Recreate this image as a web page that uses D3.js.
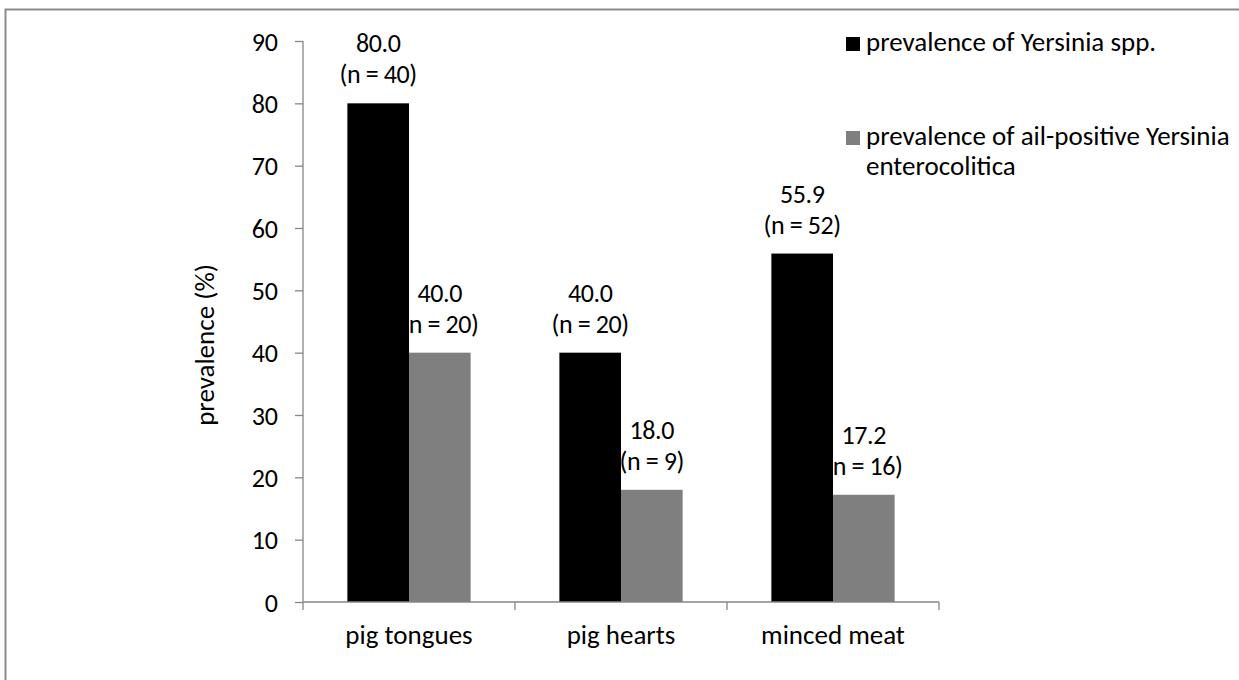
<!DOCTYPE html>
<html>
<head>
<meta charset="utf-8">
<script src="https://cdn.jsdelivr.net/npm/d3@7"></script>
<style>
  html, body { margin: 0; padding: 0; background: #fff; }
  text { font-family: Carlito, Calibri, Lato, sans-serif; fill: #000; }
</style>
</head>
<body>
<svg id="chart" width="1239" height="680"></svg>
<script>
const categories = ["pig tongues", "pig hearts", "minced meat"];
const seriesNames = ["prevalence of Yersinia spp.", "prevalence of ail-positive Yersinia enterocolitica"];
const legendLines = [["prevalence of Yersinia spp."], ["prevalence of ail-positive Yersinia", "enterocolitica"]];
const yersiniaSpp = [80.0, 40.0, 55.9];
const ailPositive = [40.0, 18.0, 17.2];
const nYersiniaSpp = [40, 20, 52];
const nAilPositive = [20, 9, 16];
const yTicks = [0, 10, 20, 30, 40, 50, 60, 70, 80, 90];
const yTitle = "prevalence (%)";

const seriesValues = [yersiniaSpp, ailPositive];
const seriesN = [nYersiniaSpp, nAilPositive];
const colors = ["#000000", "#7f7f7f"];
const axisColor = "#868686";
const fs = 26;
const fsText = 27;
const ff = "Carlito, Calibri, Lato, sans-serif";

const svg = d3.select("#chart");
svg.append("rect").attr("x", 0).attr("y", 0).attr("width", 1239).attr("height", 680).attr("fill", "#fff");
svg.append("rect").attr("x", 5.5).attr("y", 9.5).attr("width", 1300).attr("height", 700)
  .attr("fill", "none").attr("stroke", "#8c8c8c").attr("stroke-width", 2);

const y = d3.scaleLinear().domain([0, 90]).range([602, 41]);
const x0 = d3.scaleBand().domain(categories).range([303, 939]).padding(0);
const x1 = d3.scaleBand().domain([0, 1]).range([0, x0.bandwidth()]).paddingInner(0).paddingOuter(0.72);

const data = [];
categories.forEach((c, i) => {
  seriesValues.forEach((vals, s) => {
    data.push({ cat: c, s: s, v: vals[i], n: seriesN[s][i] });
  });
});

svg.append("g").selectAll("rect").data(data).join("rect")
  .attr("x", d => x0(d.cat) + x1(d.s))
  .attr("y", d => y(d.v))
  .attr("width", x1.bandwidth())
  .attr("height", d => y(0) - y(d.v))
  .attr("fill", d => colors[d.s]);

// y axis
const yAxis = d3.axisLeft(y).tickValues(yTicks).tickSize(8).tickPadding(17).tickFormat(d3.format("d"));
const gy = svg.append("g").attr("transform", "translate(303,0)").call(yAxis);
gy.select(".domain").attr("stroke", axisColor).attr("stroke-width", 1.3).attr("d", "M0,41V602");
gy.selectAll(".tick line").attr("stroke", axisColor).attr("stroke-width", 1.3);
gy.selectAll(".tick text").attr("font-size", fs).attr("font-family", ff).attr("fill", "#000").attr("dy", "0.35em");

// x axis
const xAxis = d3.axisBottom(x0).tickSize(0).tickPadding(0);
const gx = svg.append("g").attr("transform", "translate(0,602)").call(xAxis);
gx.select(".domain").attr("stroke", axisColor).attr("stroke-width", 1.3).attr("d", "M303,0H939");
gx.selectAll(".tick text").attr("font-size", fsText).attr("font-family", ff).attr("fill", "#000").attr("y", 42).attr("dy", 0);
const boundaries = categories.map(c => x0(c)).concat([x0(categories[categories.length - 1]) + x0.bandwidth()]);
gx.selectAll("line.sep").data(boundaries).join("line").attr("class", "sep")
  .attr("x1", d => d).attr("x2", d => d).attr("y1", 0).attr("y2", 8)
  .attr("stroke", axisColor).attr("stroke-width", 1.3);

// y title
svg.append("text").attr("transform", "translate(214,345) rotate(-90)")
  .attr("text-anchor", "middle").attr("font-size", fsText).text(yTitle);

// data labels
const labels = svg.append("g").attr("font-size", fs).attr("text-anchor", "middle").attr("letter-spacing", -0.4);
data.forEach(d => {
  const cx = x0(d.cat) + x1(d.s) + x1.bandwidth() / 2;
  const top = y(d.v);
  labels.append("text").attr("x", cx).attr("y", top - 51).text(d3.format(".1f")(d.v));
  labels.append("text").attr("x", cx).attr("y", top - 20).text("(n = " + d.n + ")");
});

// legend
const legend = svg.append("g").attr("font-size", fsText);
const legendY = [51, 145];
legendLines.forEach((lines, i) => {
  legend.append("rect").attr("x", 846).attr("y", legendY[i] - 14).attr("width", 14).attr("height", 14).attr("fill", colors[i]);
  lines.forEach((t, j) => {
    legend.append("text").attr("x", 866).attr("y", legendY[i] + j * 30).text(t);
  });
});
</script>
</body>
</html>
